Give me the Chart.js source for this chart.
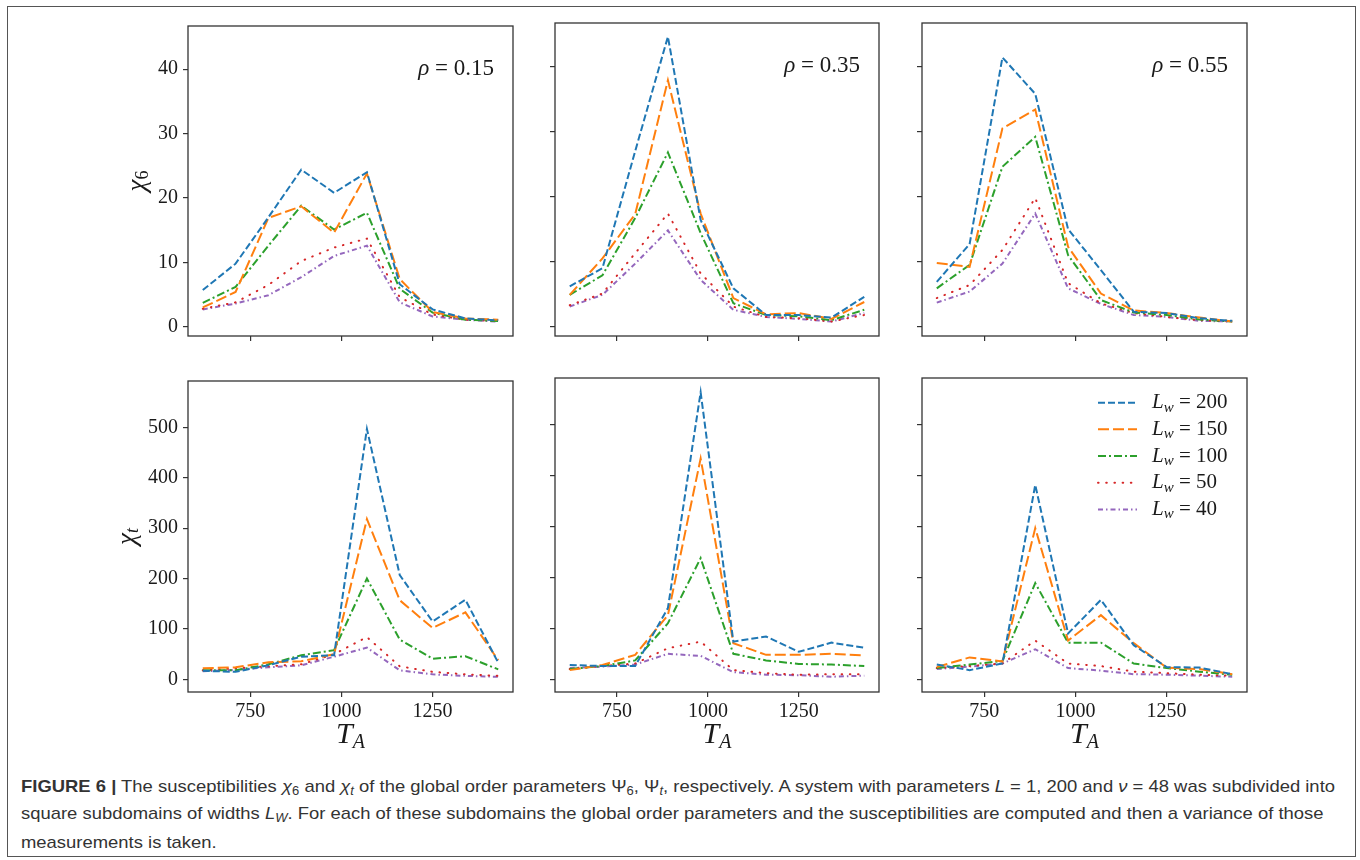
<!DOCTYPE html>
<html><head><meta charset="utf-8">
<script src="https://cdn.jsdelivr.net/npm/chart.js@4.4.1/dist/chart.umd.min.js"></script>
<style>
html,body{margin:0;padding:0;background:#fff;}
body{width:1360px;height:860px;position:relative;overflow:hidden;}
#frame{position:absolute;left:7px;top:6px;width:1349px;height:851px;border:1.5px solid #555;box-sizing:border-box;}
canvas{position:absolute;}
.cap{position:absolute;left:21px;white-space:nowrap;font-family:"Liberation Sans",Arial,sans-serif;font-size:17px;color:#333;transform-origin:0 50%;line-height:20px;}
.cap sub{font-size:12px;vertical-align:-3px;line-height:0;}
</style></head>
<body>
<div id="frame"></div>
<div class="cap" id="cap1" style="top:777px"><b>FIGURE 6 |</b> The susceptibilities <i>χ</i><sub>6</sub> and <i>χ<sub>t</sub></i> of the global order parameters Ψ<sub>6</sub>, Ψ<sub><i>t</i></sub>, respectively. A system with parameters <i>L</i> = 1, 200 and <i>ν</i> = 48 was subdivided into</div>
<div class="cap" id="cap2" style="top:804px">square subdomains of widths <i>L<sub>W</sub></i>. For each of these subdomains the global order parameters and the susceptibilities are computed and then a variance of those</div>
<div class="cap" id="cap3" style="top:833px">measurements is taken.</div>
<script>
// ---- data ----
const temps = [620, 710, 800, 890, 980, 1070, 1160, 1250, 1340, 1430];
const widths = [200, 150, 100, 50, 40];
const rhoLabels = ['0.15', '0.35', '0.55'];
const xTicks = [750, 1000, 1250];
const yTicksChi6 = [0, 10, 20, 30, 40];
const yTicksChiT = [0, 100, 200, 300, 400, 500];

// chi_6, rows = L_w 200,150,100,50,40
const chi6_rho015 = [
  [5.7, 9.8, 17.0, 24.4, 20.8, 24.0, 6.6, 2.7, 1.3, 1.0],
  [3.0, 5.4, 16.9, 18.7, 14.6, 23.8, 7.4, 2.3, 1.3, 1.1],
  [3.7, 6.2, 12.6, 18.8, 15.1, 17.7, 5.9, 2.2, 1.1, 0.9],
  [2.8, 3.8, 6.5, 10.2, 12.3, 13.7, 4.6, 1.9, 1.1, 0.9],
  [2.7, 3.6, 4.9, 7.7, 11.0, 12.6, 3.8, 1.6, 1.1, 0.8]
];
const chi6_rho035 = [
  [6.2, 9.0, 27.0, 44.6, 16.4, 5.9, 1.8, 1.8, 1.4, 4.6],
  [4.9, 10.5, 17.3, 37.9, 17.4, 4.4, 1.9, 2.1, 1.2, 3.8],
  [4.9, 7.9, 16.7, 26.8, 14.4, 3.6, 1.8, 1.6, 1.0, 2.6],
  [3.3, 5.1, 11.3, 17.4, 8.2, 3.1, 1.5, 1.3, 0.8, 1.8],
  [3.1, 4.9, 9.7, 14.8, 7.2, 2.6, 1.5, 1.2, 0.8, 2.1]
];
const chi6_rho055 = [
  [6.9, 12.7, 41.4, 35.8, 15.0, 8.7, 2.3, 2.1, 1.3, 0.9],
  [9.8, 9.2, 30.5, 33.4, 12.3, 5.1, 2.5, 2.1, 1.4, 0.8],
  [5.9, 9.5, 24.6, 29.2, 11.0, 4.1, 2.2, 1.8, 1.1, 0.8],
  [4.4, 6.4, 11.8, 19.8, 6.7, 3.6, 2.1, 1.5, 1.0, 0.8],
  [3.7, 5.4, 9.7, 17.4, 5.9, 3.5, 1.8, 1.5, 0.9, 0.8]
];
// chi_t
const chiT_rho015 = [
  [17, 15, 28, 45, 48, 497, 207, 115, 158, 33],
  [22, 24, 34, 36, 50, 318, 157, 102, 133, 38],
  [18, 18, 30, 48, 58, 200, 79, 41, 46, 20],
  [18, 22, 26, 30, 50, 84, 26, 15, 10, 7],
  [16, 19, 24, 28, 45, 63, 18, 10, 7, 5]
];
const chiT_rho035 = [
  [28, 26, 26, 140, 564, 74, 84, 54, 72, 62],
  [18, 28, 48, 126, 434, 71, 48, 48, 50, 47],
  [20, 26, 37, 110, 238, 50, 37, 30, 29, 26],
  [20, 26, 31, 61, 74, 18, 12, 9, 10, 10],
  [22, 25, 29, 50, 46, 14, 9, 8, 5, 7]
];
const chiT_rho055 = [
  [29, 18, 31, 382, 90, 156, 67, 24, 23, 10],
  [24, 43, 35, 297, 76, 126, 71, 23, 20, 10],
  [22, 29, 36, 189, 72, 72, 31, 22, 15, 9],
  [22, 26, 31, 76, 31, 26, 15, 12, 9, 7],
  [20, 25, 31, 59, 22, 17, 10, 9, 7, 5]
];

// ---- styles & layout ----
const colors = ['#1f77b4', '#ff7f0e', '#2ca02c', '#d62728', '#9467bd'];
const dashes = [[7, 3], [11, 4], [8, 3, 2, 3], [0.6, 7.6], [5, 3, 1.5, 3]];
const caps = ['butt', 'butt', 'butt', 'round', 'butt'];
const plotX = [188, 555, 922], plotW = [325, 324, 325];
const plotY = [23, 378], plotH = [313, 314];
const ML = [100, 20, 20], MR = 10, MT = 14, MB = [26, 70];
const yRange = [[-1.43, 46.7], [-25, 592]];
const SERIF = '"Liberation Serif", "DejaVu Serif", serif';
const TXT = '#1a1a1a';

function mathText(ctx, parts, x, y, align) {
  let total = 0; const ws = [];
  for (const p of parts) {
    ctx.font = (p[2] ? 'italic ' : '') + p[1] + 'px ' + SERIF;
    const w = ctx.measureText(p[0]).width; ws.push(w); total += w;
  }
  let cx = align === 'center' ? x - total / 2 : (align === 'right' ? x - total : x);
  ctx.textAlign = 'left';
  parts.forEach((p, i) => {
    ctx.font = (p[2] ? 'italic ' : '') + p[1] + 'px ' + SERIF;
    ctx.fillText(p[0], cx, y + (p[3] || 0));
    cx += ws[i];
  });
}

const panels = [
  { data: chi6_rho015, row: 0, col: 0 }, { data: chi6_rho035, row: 0, col: 1 }, { data: chi6_rho055, row: 0, col: 2 },
  { data: chiT_rho015, row: 1, col: 0 }, { data: chiT_rho035, row: 1, col: 1 }, { data: chiT_rho055, row: 1, col: 2 }
];

panels.forEach((p, idx) => {
  const { row, col } = p;
  const cv = document.createElement('canvas');
  const W = ML[col] + plotW[col] + MR, H = MT + plotH[row] + MB[row];
  cv.width = W; cv.height = H;
  cv.style.left = (plotX[col] - ML[col]) + 'px';
  cv.style.top = (plotY[row] - MT) + 'px';
  cv.style.width = W + 'px'; cv.style.height = H + 'px';
  document.body.appendChild(cv);

  const deco = {
    id: 'deco' + idx,
    afterDraw(chart) {
      const ctx = chart.ctx, a = chart.chartArea;
      ctx.save();
      ctx.strokeStyle = '#333'; ctx.lineWidth = 1.3; ctx.setLineDash([]);
      ctx.strokeRect(a.left, a.top, a.right - a.left, a.bottom - a.top);
      ctx.fillStyle = TXT; ctx.textBaseline = 'alphabetic';
      const midY = (a.top + a.bottom) / 2, midX = (a.left + a.right) / 2;
      if (row === 0) {
        mathText(ctx, [['ρ', 23, true], [' = ' + rhoLabels[col], 23, false]], a.right - 19, a.top + 49, 'right');
      }
      if (col === 0) {
        ctx.save();
        ctx.textBaseline = 'middle';
        if (row === 0) {
          ctx.translate(a.left - 50, midY); ctx.rotate(-Math.PI / 2);
          mathText(ctx, [['χ', 27, true], ['6', 18, false, 5]], 0, 0, 'center');
        } else {
          ctx.translate(a.left - 60, midY); ctx.rotate(-Math.PI / 2);
          mathText(ctx, [['χ', 27, true], ['t', 18, true, 5]], 0, 0, 'center');
        }
        ctx.restore();
      }
      if (row === 1) {
        mathText(ctx, [['T', 30, true], ['A', 20, true, 5]], midX, a.bottom + 51, 'center');
      }
      if (row === 1 && col === 2) {
        ctx.textBaseline = 'middle';
        widths.forEach((w, i) => {
          const yy = a.top + 24.7 + 26.67 * i;
          ctx.save();
          ctx.strokeStyle = colors[i]; ctx.lineWidth = 2; ctx.lineCap = caps[i];
          ctx.setLineDash(dashes[i]);
          ctx.beginPath(); ctx.moveTo(a.right - 149, yy); ctx.lineTo(a.right - 110, yy); ctx.stroke();
          ctx.restore();
          ctx.fillStyle = TXT;
          mathText(ctx, [['L', 21, true], ['w', 15, true, 5], [' = ' + w, 21, false]], a.right - 95, yy, 'left');
        });
      }
      ctx.restore();
    }
  };

  new Chart(cv, {
    type: 'line',
    data: {
      datasets: p.data.map((vals, i) => ({
        label: 'L_w = ' + widths[i],
        data: temps.map((t, j) => ({ x: t, y: vals[j] })),
        borderColor: colors[i], borderWidth: 2, borderDash: dashes[i], borderCapStyle: caps[i],
        pointRadius: 0, fill: false, tension: 0
      }))
    },
    options: {
      responsive: false, animation: false, devicePixelRatio: 1,
      layout: { padding: { top: MT, right: MR, left: 0, bottom: 0 } },
      plugins: { legend: { display: false }, tooltip: { enabled: false } },
      scales: {
        x: {
          type: 'linear', min: 579.5, max: 1470.5,
          afterBuildTicks: s => { s.ticks = xTicks.map(v => ({ value: v })); },
          afterFit: s => { s.height = MB[row]; },
          grid: { drawOnChartArea: false, drawTicks: true, tickLength: 5, color: '#333', lineWidth: 1.2 },
          border: { display: false },
          ticks: { display: row === 1, font: { family: SERIF, size: 20 }, color: TXT, padding: 3, maxRotation: 0, callback: v => String(v) }
        },
        y: {
          type: 'linear', min: yRange[row][0], max: yRange[row][1],
          afterBuildTicks: s => { s.ticks = (row === 0 ? yTicksChi6 : yTicksChiT).map(v => ({ value: v })); },
          afterFit: s => { s.width = ML[col]; },
          grid: { drawOnChartArea: false, drawTicks: true, tickLength: 5, color: '#333', lineWidth: 1.2 },
          border: { display: false },
          ticks: { display: col === 0, font: { family: SERIF, size: 20 }, color: TXT, padding: 5, callback: v => String(v) }
        }
      }
    },
    plugins: [deco]
  });
});

// caption fitting (condensed face in the original)
(function () {
  const l1 = document.getElementById('cap1');
  const s = 1314 / l1.getBoundingClientRect().width;
  ['cap1', 'cap2', 'cap3'].forEach(id => { document.getElementById(id).style.transform = 'scaleX(' + s + ')'; });
})();
</script>
</body></html>
